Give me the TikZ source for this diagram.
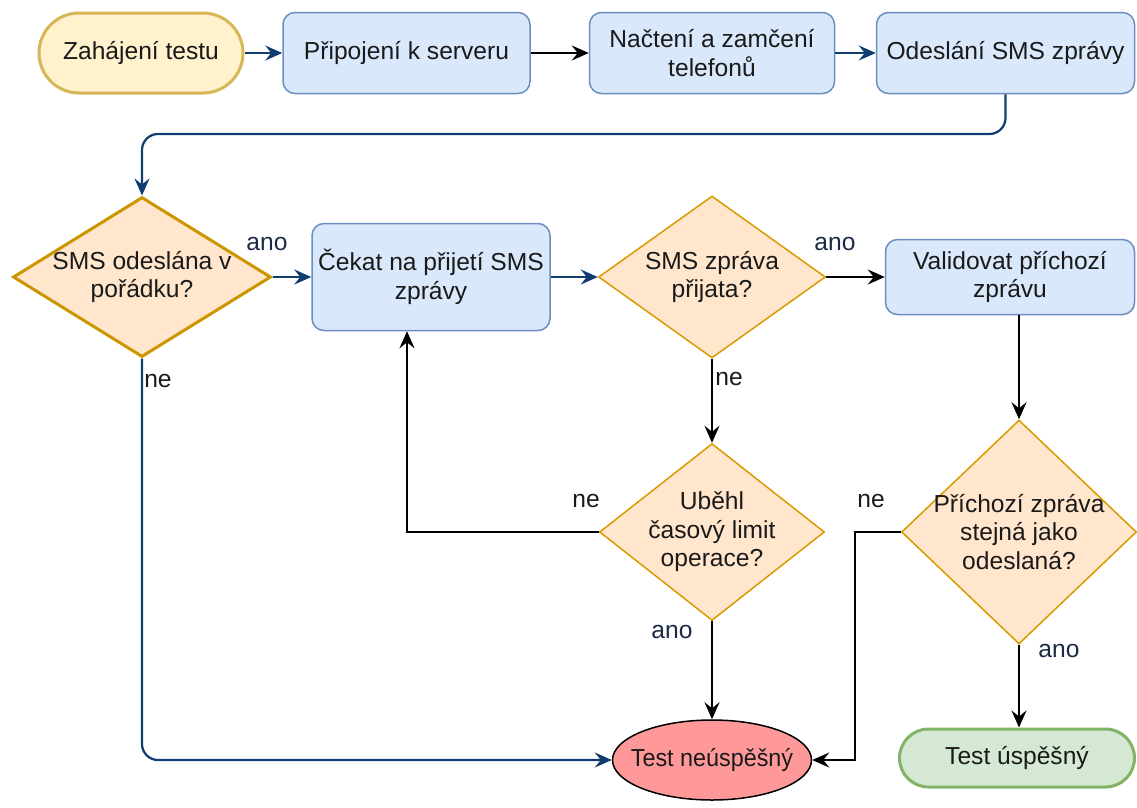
\documentclass[tikz,border=0pt]{standalone}
\usepackage{fontspec}
\setmainfont{Liberation Sans}
\usetikzlibrary{arrows.meta,shapes.geometric,shapes.misc}
\definecolor{procfill}{HTML}{DAE8FC}
\definecolor{procdraw}{HTML}{6C8EBF}
\definecolor{decfill}{HTML}{FFE6CC}
\definecolor{decdraw}{HTML}{D79B00}
\definecolor{decdark}{HTML}{CC9600}
\definecolor{startfill}{HTML}{FFF2CC}
\definecolor{startdraw}{HTML}{D6B656}
\definecolor{failfill}{HTML}{FF9999}
\definecolor{okfill}{HTML}{D5E8D4}
\definecolor{okdraw}{HTML}{82B366}
\definecolor{navy}{HTML}{0F3D70}
\definecolor{labnavy}{HTML}{1B2A47}
\definecolor{ink}{HTML}{1A1A1A}

\begin{document}
\begin{tikzpicture}[x=1pt,y=-1pt,
  every node/.style={font=\fontsize{24.6}{28.5}\selectfont, text=ink},
  proc/.style={rectangle, rounded corners=12pt, draw=procdraw, fill=procfill,
    line width=1.5pt, align=center, inner sep=0pt},
  dec/.style={diamond, draw=decdraw, fill=decfill, line width=1.5pt, inner sep=0pt},
  dectext/.style={align=center, inner sep=0pt},
  term/.style={rounded rectangle, inner sep=0pt, align=center},
  flow/.style={line width=2.2pt, -{Stealth[length=17pt,width=15pt,inset=6pt]}},
  navyflow/.style={flow, draw=navy},
  blackflow/.style={flow, draw=black},
  yes/.style={inner sep=0pt, text=labnavy},
  no/.style={inner sep=0pt, text=ink}
]
\useasboundingbox (0,0) rectangle (1137,807);

% top row
\node[term, draw=startdraw, fill=startfill, line width=3pt,
      minimum width=204pt, minimum height=80pt] (start) at (141,53) {Zahájení testu};
\node[proc, minimum width=247pt, minimum height=81pt] (conn) at (406.5,53) {Připojení k serveru};
\node[proc, minimum width=245pt, minimum height=81pt] (lock) at (712,53) {Načtení a zamčení\\telefonů};
\node[proc, minimum width=258pt, minimum height=81pt] (send) at (1005.5,53) {Odeslání SMS zprávy};

% middle row
\node[dec, line width=3pt, draw=decdark, minimum width=258pt, minimum height=160pt] (sent) at (142,277) {};
\node[dectext] (sentq) at (sent.center) {SMS odeslána v\\pořádku?};
\node[proc, minimum width=238pt, minimum height=107pt] (wait) at (431,277) {Čekat na přijetí SMS\\zprávy};
\node[dec, minimum width=227pt, minimum height=162pt] (recv) at (712,277) {};
\node[dectext] (recvq) at (recv.center) {SMS zpráva\\přijata?};
\node[proc, minimum width=249pt, minimum height=75pt] (valid) at (1010,277) {Validovat příchozí\\zprávu};

% lower decisions
\node[dec, minimum width=225pt, minimum height=177pt] (tout) at (712,532) {};
\node[dectext] (toutq) at (tout.center) {Uběhl\\časový limit\\operace?};
\node[dec, minimum width=235pt, minimum height=224pt] (same) at (1019,532) {};
\node[dectext] (sameq) at (same.center) {Příchozí zpráva\\stejná jako\\odeslaná?};

% end states
\node[ellipse, draw=black, fill=failfill, line width=1.5pt, inner sep=0pt,
      minimum width=199pt, minimum height=80pt] (fail) at (712,760) {};
\node[inner sep=0pt, xscale=0.95] (failt) at (fail.center) {Test neúspěšný};
\node[term, draw=okdraw, fill=okfill, line width=3pt,
      minimum width=235pt, minimum height=58pt] (pass) at (1017,758) {Test úspěšný};

% connectors
\draw[navyflow] (start.east) -- (conn.west);
\draw[blackflow] (conn.east) -- (lock.west);
\draw[navyflow] (lock.east) -- (send.west);
\coordinate (bend) at (142,134);
\draw[navyflow, rounded corners=16pt] (send.south) |- (bend) -- (sent.north);

\draw[navyflow] (sent.east) -- (wait.west);
\node[yes] (anoA) at (267,244) {ano};
\draw[navyflow] (wait.east) -- (recv.west);
\draw[blackflow] (recv.east) -- (valid.west);
\node[yes] (anoB) at (835,244) {ano};

\draw[blackflow] (recv.south) -- (tout.north);
\node[no] (neB) at (729,379) {ne};
\draw[blackflow] (tout.west) -| ([xshift=-24pt]wait.south);
\node[no] (neC) at (586,501) {ne};
\draw[blackflow] (tout.south) -- (fail.north);
\node[yes] (anoC) at (672,632) {ano};

\draw[blackflow] (valid.south -| same.north) -- (same.north);
\draw[blackflow] (same.south) -- (same.south |- pass.north);
\node[yes] (anoD) at (1059,651) {ano};
\coordinate (jog) at (855,532);
\draw[blackflow] (same.west) -- (jog) |- (fail.east);
\node[no] (neD) at (871,501) {ne};

\draw[navyflow, rounded corners=16pt] (sent.south) |- (fail.west);
\node[no] (neA) at (158,381) {ne};
\end{tikzpicture}
\end{document}
